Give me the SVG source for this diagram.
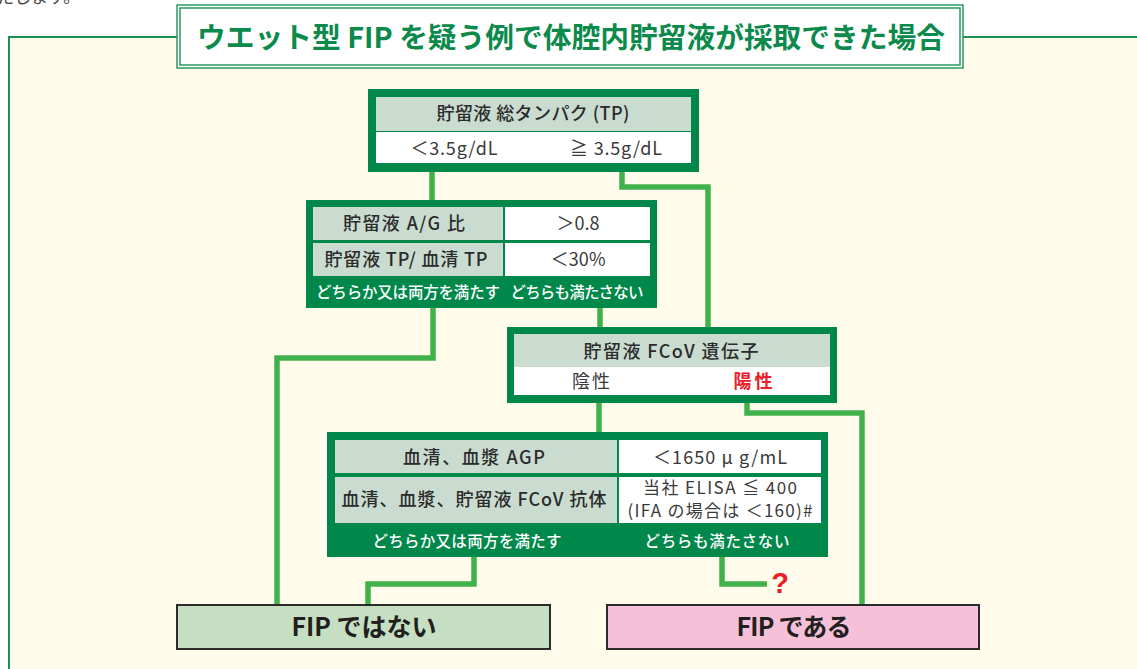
<svg xmlns="http://www.w3.org/2000/svg" width="1137" height="669" viewBox="0 0 1137 669">
<style>
text{font-family:"Noto Sans CJK JP","Noto Sans",sans-serif;text-anchor:middle}
.frame{fill:#00874a}
.hd{fill:#cadcd0}
.wt{fill:#ffffff}
.t{font-size:18px;fill:#2b2b2b;font-weight:500}
.v{font-size:18px;fill:#3a3a3a;font-weight:400}
.w{font-size:15.5px;fill:#ffffff;font-weight:500}
.con{fill:none;stroke:#41b24b;stroke-width:5.5;stroke-linejoin:miter}
.res{stroke:#2b2b2b;stroke-width:2}
.rt{font-size:25px;font-weight:700;fill:#231f20}
</style>
<rect x="0" y="0" width="1137" height="669" fill="#ffffff"/>
<text x="-3" y="3" style="font-size:17px;fill:#444;text-anchor:start">たします。</text>
<g id="panel">
<rect x="9" y="37" width="1140" height="640" fill="#fffcec" stroke="#1a9055" stroke-width="2"/>
</g>
<g id="title">
<rect x="177" y="5" width="786" height="63" fill="#ffffff" stroke="#2a9a60" stroke-width="1.5"/>
<rect x="180" y="8" width="780" height="57" fill="none" stroke="#2a9a60" stroke-width="1.5"/>
<text x="571" y="48" textLength="748" lengthAdjust="spacingAndGlyphs" style="font-size:28.5px;font-weight:700;fill:#0b8a4c">ウエット型 FIP を疑う例で体腔内貯留液が採取できた場合</text>
</g>
<g id="connectors">
<polyline class="con" points="432,171 432,201"/>
<polyline class="con" points="622,171 622,187 708,187 708,328"/>
<polyline class="con" points="433,307 433,358 277,358 277,605"/>
<polyline class="con" points="600,307 600,328"/>
<polyline class="con" points="599,402 599,433"/>
<polyline class="con" points="747,402 747,413 862,413 862,605"/>
<polyline class="con" points="474,556 474,584 368,584 368,605"/>
<polyline class="con" points="722,556 722,584 767,584"/>
</g>
<g id="tp">
<rect class="frame" x="368" y="89" width="331" height="83"/>
<rect class="hd" x="376" y="97" width="315" height="34"/>
<rect class="wt" x="376" y="132" width="315" height="31"/>
<text class="t" x="533" y="120" textLength="193">貯留液 総タンパク (TP)</text>
<text class="v" x="454" y="155" textLength="87">＜3.5g/dL</text>
<text class="v" x="616" y="155" textLength="92">≧ 3.5g/dL</text>
</g>
<g id="ag">
<rect class="frame" x="306" y="200" width="351" height="108"/>
<rect class="hd" x="313" y="207" width="190" height="33"/>
<rect class="wt" x="505" y="207" width="145" height="33"/>
<rect class="hd" x="313" y="243" width="190" height="33"/>
<rect class="wt" x="505" y="243" width="145" height="33"/>
<text class="t" x="404" y="230" textLength="122">貯留液 A/G 比</text>
<text class="v" x="578" y="230" textLength="43">＞0.8</text>
<text class="t" x="406" y="266" textLength="163">貯留液 TP/ 血清 TP</text>
<text class="v" x="578" y="266" textLength="55">＜30%</text>
<text class="w" x="408" y="298" textLength="184">どちらか又は両方を満たす</text>
<text class="w" x="577" y="298" textLength="133">どちらも満たさない</text>
</g>
<g id="gene">
<rect class="frame" x="507" y="327" width="330" height="76"/>
<rect class="hd" x="514" y="334" width="316" height="33"/>
<rect class="wt" x="514" y="367" width="316" height="28"/>
<text class="t" x="671" y="358" textLength="175">貯留液 FCoV 遺伝子</text>
<text class="v" x="591" y="388" textLength="38">陰性</text>
<text x="753" y="388" textLength="39" style="font-size:18px;font-weight:700;fill:#e8202a">陽性</text>
</g>
<g id="agp">
<rect class="frame" x="327" y="432" width="501" height="125"/>
<rect class="hd" x="335" y="440" width="282" height="33"/>
<rect class="wt" x="619" y="440" width="202" height="33"/>
<rect class="hd" x="335" y="477" width="282" height="46"/>
<rect class="wt" x="619" y="477" width="202" height="46"/>
<text class="t" x="474" y="464" textLength="142">血清、血漿 AGP</text>
<text class="v" x="720" y="464" textLength="134">＜1650 μ g/mL</text>
<text class="t" x="474" y="506" textLength="265">血清、血漿、貯留液 FCoV 抗体</text>
<text class="v" x="720" y="494" textLength="154" style="font-size:17px">当社 ELISA ≦ 400</text>
<text class="v" x="720" y="517" textLength="185" style="font-size:17px">(IFA の場合は ＜160)#</text>
<text class="w" x="467" y="547" textLength="189">どちらか又は両方を満たす</text>
<text class="w" x="717" y="547" textLength="145">どちらも満たさない</text>
</g>
<g id="q">
<text x="780" y="593" style="font-family:'Liberation Sans',sans-serif;font-size:29px;font-weight:700;fill:#e8202a">?</text>
</g>
<g id="notfip">
<rect class="res" x="177" y="605" width="373" height="44" fill="#c6dfc2"/>
<text class="rt" x="364" y="636" textLength="145">FIP ではない</text>
</g>
<g id="fip">
<rect class="res" x="607" y="605" width="372" height="44" fill="#f6c0d9"/>
<text class="rt" x="794" y="636" textLength="115">FIP である</text>
</g>
</svg>
